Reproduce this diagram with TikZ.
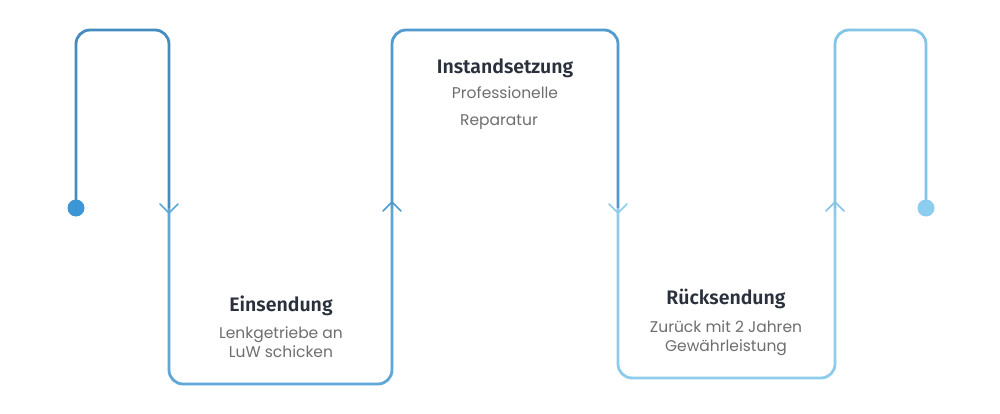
\documentclass[tikz,border=0pt]{standalone}
\usepackage{fontspec}
\setmainfont{Poppins}
\newfontfamily\headfont{Fira Sans SemiBold}
\begin{document}
\begin{tikzpicture}[x=1pt,y=-1pt,
  flow/.style={line width=2.8pt, rounded corners=14pt},
  chev/.style={line width=1.5pt, line cap=round, line join=round},
  dot/.style={circle, inner sep=0pt, minimum size=17pt},
  head/.style={font=\headfont\fontsize{19.5}{22}\selectfont, text=headc, anchor=base},
  sub/.style={font=\fontsize{15.5}{18}\selectfont, text=subc, anchor=base, align=center}]
\definecolor{c1}{HTML}{448CBF}
\definecolor{c2}{HTML}{5EA7D6}
\definecolor{c3}{HTML}{519BCF}
\definecolor{c4}{HTML}{8ECCEC}
\definecolor{c5}{HTML}{84C4E6}
\definecolor{sdot}{HTML}{3B97D3}
\definecolor{edot}{HTML}{8DCEF0}
\definecolor{headc}{HTML}{2A313C}
\definecolor{subc}{HTML}{6E6E6E}
\useasboundingbox[fill=white] (0,0) rectangle (1000,414);
% coordinates
\coordinate (m1) at (169,208);
\coordinate (m2) at (392,208);
\coordinate (m3) at (618,208);
\coordinate (m4) at (835,208);
% path
\draw[flow, c1] (76,208) -- (76,30) -- (169,30) -- (m1);
\draw[flow, c2] (m1) -- (169,384) -- (392,384) -- (m2);
\draw[flow, c3] (m2) -- (392,30) -- (618,30) -- (m3);
\draw[flow, c4] (m3) -- (618,378) -- (835,378) -- (m4);
\draw[flow, c5] (m4) -- (835,30) -- (926,30) -- (926,208);
% dots
\node[dot, fill=sdot] (s) at (76,208) {};
\node[dot, fill=edot] (e) at (926,208) {};
% chevrons
\draw[chev, c2] ([shift={(-9,-9)}]169,213) -- (169,213) -- ++(9,-9);
\draw[chev, c3] ([shift={(-9,9)}]392,202) -- (392,202) -- ++(9,9);
\draw[chev, c4] ([shift={(-9,-9)}]618,213) -- (618,213) -- ++(9,-9);
\draw[chev, c5] ([shift={(-9,9)}]835,202) -- (835,202) -- ++(9,9);
% texts
\node[head] (h1) at (281,311) {Einsendung};
\node[sub] (t1a) at (281,338) {Lenkgetriebe an};
\node[sub] (t1b) at (281,357) {LuW schicken};
\node[head] (h2) at (505,74) {Instandsetzung};
\node[sub] (t2a) at (505,99) {Professionelle};
\node[sub] (t2b) at (499,126) {Reparatur};
\node[head] (h3) at (726,304) {Rücksendung};
\node[sub] (t3a) at (726,332) {Zurück mit 2 Jahren};
\node[sub] (t3b) at (726,351) {Gewährleistung};
\end{tikzpicture}
\end{document}
